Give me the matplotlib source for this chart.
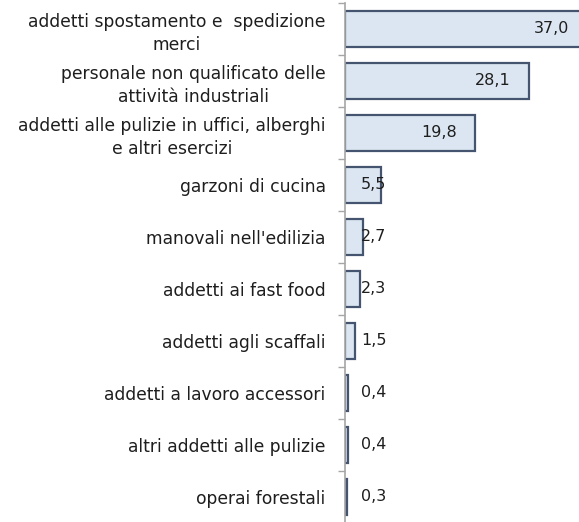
import matplotlib
matplotlib.use("Agg")
import numpy as np
import matplotlib.pyplot as plt

categories = [
    "addetti spostamento e  spedizione\nmerci",
    "personale non qualificato delle\nattività industriali",
    "addetti alle pulizie in uffici, alberghi\ne altri esercizi",
    "garzoni di cucina",
    "manovali nell'edilizia",
    "addetti ai fast food",
    "addetti agli scaffali",
    "addetti a lavoro accessori",
    "altri addetti alle pulizie",
    "operai forestali",
]
values = [37.0, 28.1, 19.8, 5.5, 2.7, 2.3, 1.5, 0.4, 0.4, 0.3]

W, H, DPI = 579, 522, 100
fill = "#dce6f2"
edge = "#46556f"
text_col = "#1e1e1e"

fig = plt.figure(figsize=(W / DPI, H / DPI), dpi=DPI)
ax_left, ax_top = 345, 3
ax = fig.add_axes([ax_left / W, (H - ax_top - 520) / H, (W - ax_left) / W, 520 / H])

y = np.arange(len(values))
ax.barh(y, values, height=0.69, color=fill, edgecolor=edge, linewidth=1.6)

px_per_unit = 6.55
ax.set_xlim(0, (W - ax_left) / px_per_unit)
ax.set_ylim(len(values) - 0.5, -0.5)

# value labels: inside end for long bars, just right of axis for short ones
for yi, v in zip(y, values):
    s = f"{v:.1f}".replace(".", ",")
    bar_px = v * px_per_unit
    if bar_px - 18 - 34 > 16:
        ax.annotate(s, (v, yi), xytext=(-18, 0), textcoords="offset pixels",
                    ha="right", va="center", fontsize=11.5, color=text_col,
                    annotation_clip=False)
    else:
        ax.annotate(s, (0, yi), xytext=(16, 0), textcoords="offset pixels",
                    ha="left", va="center", fontsize=11.5, color=text_col)

ax.set_yticks(y)
ax.set_yticklabels(categories, fontsize=12.3, color=text_col, ha="right",
                   multialignment="center", linespacing=1.35)
ax.tick_params(axis="y", which="major", length=0, pad=14)
ax.set_yticks(np.arange(len(values) + 1) - 0.5, minor=True)
ax.tick_params(axis="y", which="minor", length=5, width=1, color="#a6a6a6")
ax.set_xticks([])

for sp in ["top", "right", "bottom"]:
    ax.spines[sp].set_visible(False)
ax.spines["left"].set_color("#a6a6a6")
ax.spines["left"].set_linewidth(1.2)

fig.savefig("out.png", dpi=DPI)
